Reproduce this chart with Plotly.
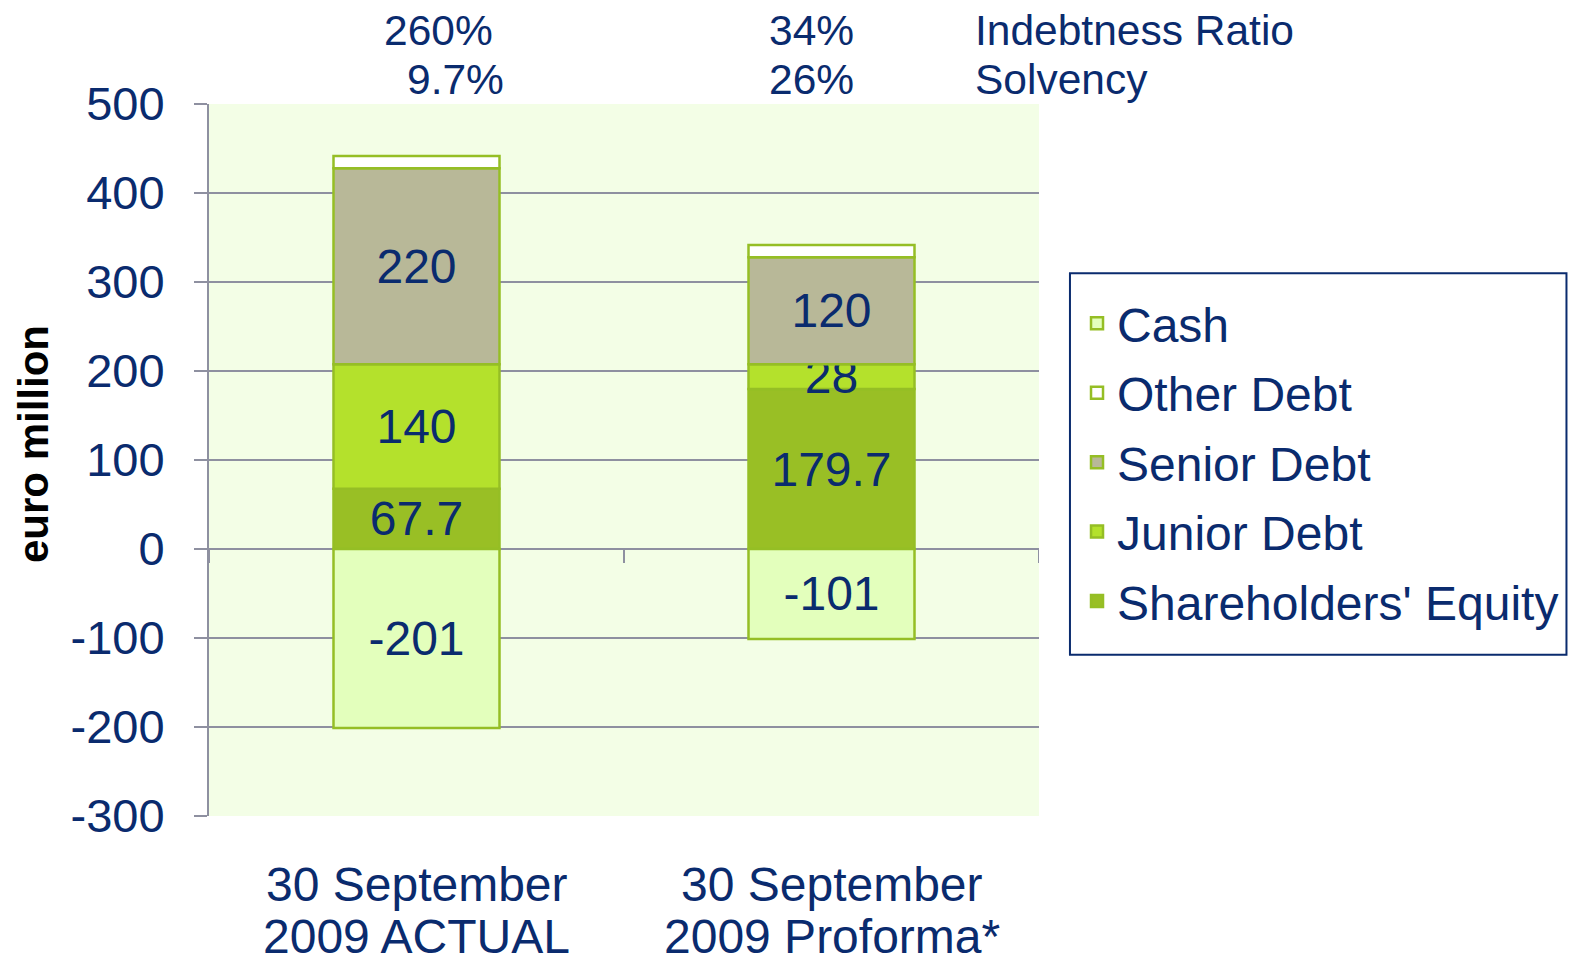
import plotly.graph_objects as go

# categories and stacked values (euro million)
categories = ["30 September 2009 ACTUAL", "30 September 2009 Proforma*"]
category_line1 = ["30 September", "30 September"]
category_line2 = ["2009 ACTUAL", "2009 Proforma*"]
equity = [67.7, 179.7]
junior_debt = [140, 28]
senior_debt = [220, 120]
other_debt = [14, 14]
cash = [-201, -101]

# ratios shown above the bars
indebtness = ["260%", "34%"]
solvency = ["9.7%", "26%"]

# y axis ticks (plain hyphen for negatives, as in the original)
y_ticks = [-300, -200, -100, 0, 100, 200, 300, 400, 500]
y_tick_labels = ["-300", "-200", "-100", "0", "100", "200", "300", "400", "500"]

navy = "#0A2B6E"
edge = "#95BE25"
grid = "#8E90A0"
font_family = "Liberation Sans, Arial, sans-serif"

# name, values, fill, show value labels, legend rank
series = [
    ("Shareholders' Equity", equity, "#99BF25", True, 5),
    ("Junior Debt", junior_debt, "#B4E12C", True, 4),
    ("Senior Debt", senior_debt, "#B8B898", True, 3),
    ("Other Debt", other_debt, "#FFFFFF", False, 2),
    ("Cash", cash, "#E3FFBC", True, 1),
]

fig = go.Figure()
for name, vals, color, labelled, rank in series:
    fig.add_trace(
        go.Bar(
            x=categories,
            y=vals,
            name=name,
            legendgroup=name,
            legendrank=rank,
            marker={"color": color, "line": {"color": edge, "width": 2.5}},
            text=[f"{v:g}" for v in vals] if labelled else None,
            textposition="inside" if labelled else "none",
            insidetextanchor="middle",
            textangle=0,
            constraintext="none",
            textfont={"size": 48, "color": navy, "family": font_family},
            hoverinfo="name+y",
        )
    )

# small ticks hanging off the zero line between categories
for xv in [-0.5, 0.5, 1.5]:
    fig.add_shape(
        type="line",
        xref="x",
        yref="y",
        x0=xv,
        x1=xv,
        ysizemode="pixel",
        yanchor=0,
        y0=0,
        y1=-14,
        line={"color": grid, "width": 2},
    )

# legend frame (bigger padding than plotly's own legend border)
fig.add_shape(
    type="rect",
    xref="paper",
    yref="paper",
    x0=1.0373,
    x1=1.6355,
    y0=0.2263,
    y1=0.7624,
    line={"color": navy, "width": 2},
    fillcolor="white",
    layer="below",
)

# ratio labels above the chart
shifts_top = [22, -20]
shifts_bottom = [39, -20]
for i, cat in enumerate(categories):
    fig.add_annotation(x=cat, y=1.103, xref="x", yref="paper", text=indebtness[i],
                       showarrow=False, xshift=shifts_top[i], yanchor="middle")
    fig.add_annotation(x=cat, y=1.034, xref="x", yref="paper", text=solvency[i],
                       showarrow=False, xshift=shifts_bottom[i], yanchor="middle")
fig.add_annotation(x=0.9208, y=1.103, xref="paper", yref="paper", text="Indebtness Ratio",
                   showarrow=False, xanchor="left", yanchor="middle")
fig.add_annotation(x=0.9208, y=1.034, xref="paper", yref="paper", text="Solvency",
                   showarrow=False, xanchor="left", yanchor="middle")
fig.update_annotations(font={"size": 42.5, "color": navy, "family": font_family})

# category labels, two tightly spaced lines under each bar
for i, cat in enumerate(categories):
    fig.add_annotation(x=cat, y=-0.0959, xref="x", yref="paper", text=category_line1[i],
                       showarrow=False, yanchor="middle",
                       font={"size": 48, "color": navy, "family": font_family})
    fig.add_annotation(x=cat, y=-0.1690, xref="x", yref="paper", text=category_line2[i],
                       showarrow=False, yanchor="middle",
                       font={"size": 48, "color": navy, "family": font_family})

# y axis title
fig.add_annotation(
    x=-0.2112,
    y=0.522,
    xref="paper",
    yref="paper",
    text="<b>euro million</b>",
    textangle=-90,
    showarrow=False,
    xanchor="center",
    yanchor="middle",
    font={"size": 42, "color": "black", "family": font_family},
)

# the page body adds an 8px margin, so the figure is 8px smaller than the window
fig.update_layout(
    width=1571,
    height=956,
    barmode="relative",
    bargap=0.6,
    paper_bgcolor="white",
    plot_bgcolor="#F3FEE6",
    margin={"l": 201, "r": 540, "t": 96, "b": 148, "autoexpand": False},
    font={"family": font_family, "color": navy},
    showlegend=True,
    legend={
        "traceorder": "grouped",
        "tracegroupgap": 4,
        "x": 1.0458,
        "y": 0.497,
        "xanchor": "left",
        "yanchor": "middle",
        "borderwidth": 0,
        "font": {"size": 48, "color": navy},
        "bgcolor": "rgba(0,0,0,0)",
    },
    xaxis={
        "range": [-0.5, 1.5],
        "automargin": False,
        "showgrid": False,
        "showline": False,
        "ticks": "",
        "showticklabels": False,
    },
    yaxis={
        "range": [-300, 500],
        "automargin": False,
        "tickvals": y_ticks,
        "ticktext": y_tick_labels,
        "showgrid": True,
        "gridcolor": grid,
        "gridwidth": 2,
        "zeroline": True,
        "zerolinecolor": grid,
        "zerolinewidth": 2,
        "showline": True,
        "linecolor": grid,
        "linewidth": 2,
        "ticks": "outside",
        "ticklen": 13,
        "tickcolor": grid,
        "tickwidth": 2,
        "tickfont": {"size": 47, "color": navy},
        "ticklabelstandoff": 20,
    },
)

fig.write_html("out.html")
